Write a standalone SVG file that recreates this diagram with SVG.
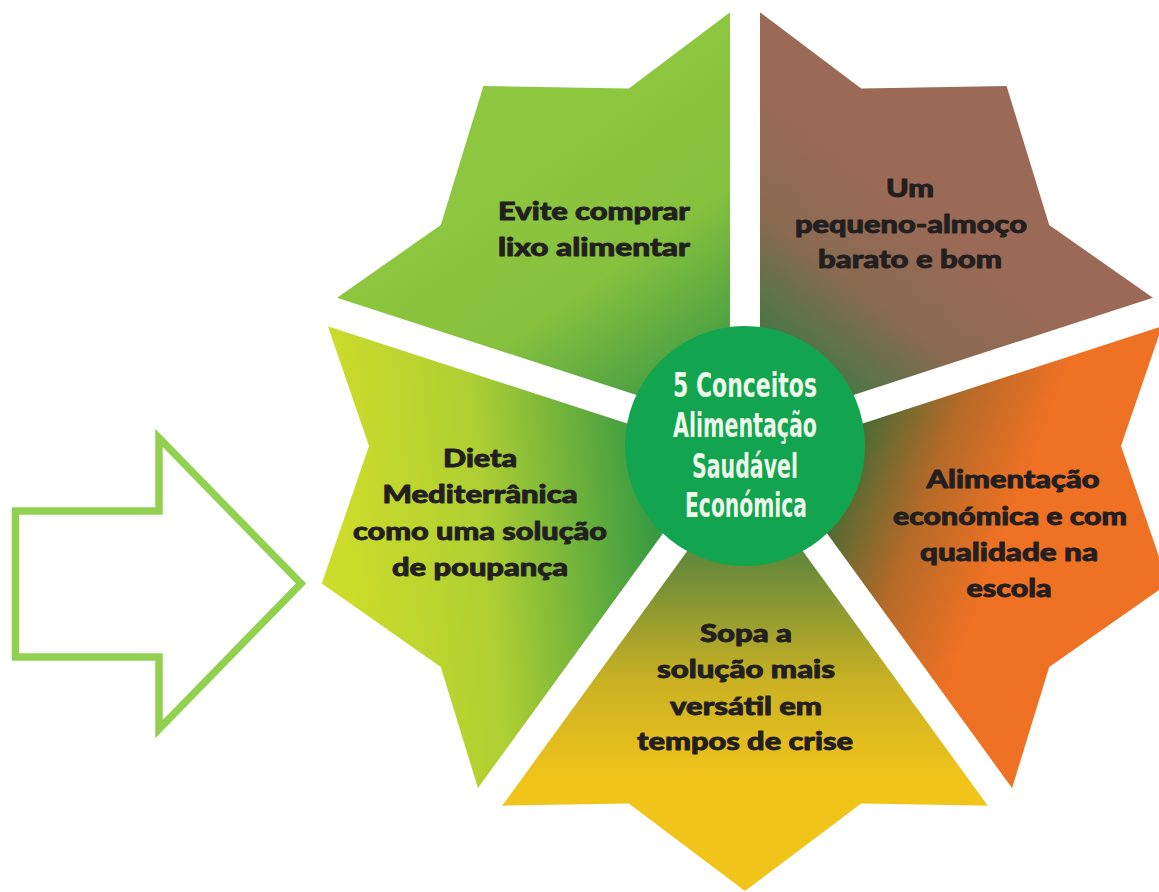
<svg xmlns="http://www.w3.org/2000/svg" width="1159" height="892" viewBox="0 0 1159 892">
  <defs>
    <linearGradient id="gA" gradientUnits="userSpaceOnUse" x1="540" y1="150" x2="730" y2="420">
      <stop offset="0" stop-color="#8dc63f"/>
      <stop offset="0.42" stop-color="#86c13e"/>
      <stop offset="1" stop-color="#2a8e46"/>
    </linearGradient>
    <linearGradient id="gB" gradientUnits="userSpaceOnUse" x1="785" y1="395" x2="930" y2="210">
      <stop offset="0" stop-color="#2e7c40"/>
      <stop offset="0.55" stop-color="#8a6a50"/>
      <stop offset="1" stop-color="#9b6a56"/>
    </linearGradient>
    <linearGradient id="gC" gradientUnits="userSpaceOnUse" x1="860" y1="430" x2="1020" y2="490">
      <stop offset="0" stop-color="#4a6b35"/>
      <stop offset="0.5" stop-color="#b56a28"/>
      <stop offset="1" stop-color="#ee7124"/>
    </linearGradient>
    <linearGradient id="gD" gradientUnits="userSpaceOnUse" x1="745" y1="560" x2="745" y2="780">
      <stop offset="0" stop-color="#66893a"/>
      <stop offset="0.55" stop-color="#c9b124"/>
      <stop offset="1" stop-color="#f1c41a"/>
    </linearGradient>
    <linearGradient id="gE" gradientUnits="userSpaceOnUse" x1="340" y1="500" x2="650" y2="470">
      <stop offset="0" stop-color="#cbdc2a"/>
      <stop offset="0.45" stop-color="#b0cf33"/>
      <stop offset="1" stop-color="#389a42"/>
    </linearGradient>
    <style>
      .label { font-family: Lato, "Open Sans", "Liberation Sans", sans-serif; font-weight: 900; font-size: 25.5px; fill: #231f20; stroke: #231f20; stroke-width: 0.9; stroke-linejoin: round; text-anchor: middle; }
      .hub { font-family: "Liberation Sans Narrow", "DejaVu Sans Condensed", "Liberation Sans", sans-serif; font-weight: bold; font-size: 33px; fill: #eef7ea; text-anchor: middle; }
      .sep { stroke: #ffffff; stroke-width: 30; stroke-linecap: butt; }
    </style>
  </defs>

  <rect width="1159" height="892" fill="#ffffff"/>

  <!-- outline arrow pointing at the star -->
  <g id="arrow">
    <polygon points="15.5,511 159,511 159,438 301,583.5 159,729 159,657 15.5,657" fill="none" stroke="#92d050" stroke-width="7.5" stroke-linejoin="miter"/>
  </g>

  <!-- star segments, centre (745,446) -->
  <g id="seg-lixo">
    <polygon points="745,446 321.8,308.5 440.8,225 483.4,86 628.8,88.4 745,1" fill="url(#gA)"/>
    <text class="label" x="594" y="220" textLength="192" lengthAdjust="spacingAndGlyphs">Evite comprar</text>
    <text class="label" x="594" y="256" textLength="192" lengthAdjust="spacingAndGlyphs">lixo alimentar</text>
  </g>

  <g id="seg-pequeno-almoco">
    <polygon points="745,446 745,1 861.2,88.4 1006.6,86 1049.2,225 1168.2,308.5" fill="url(#gB)"/>
    <text class="label" x="910" y="197" textLength="48" lengthAdjust="spacingAndGlyphs">Um</text>
    <text class="label" x="911" y="233" textLength="232" lengthAdjust="spacingAndGlyphs">pequeno-almoço</text>
    <text class="label" x="910" y="268" textLength="184" lengthAdjust="spacingAndGlyphs">barato e bom</text>
  </g>

  <g id="seg-escola">
    <polygon points="745,446 1168.2,308.5 1121,446 1168.2,583.5 1049.2,667 1006.6,806" fill="url(#gC)"/>
    <text class="label" x="1013" y="488" textLength="173" lengthAdjust="spacingAndGlyphs">Alimentação</text>
    <text class="label" x="1010" y="525" textLength="234" lengthAdjust="spacingAndGlyphs">económica e com</text>
    <text class="label" x="1009" y="561" textLength="178" lengthAdjust="spacingAndGlyphs">qualidade na</text>
    <text class="label" x="1009" y="597" textLength="85" lengthAdjust="spacingAndGlyphs">escola</text>
  </g>

  <g id="seg-sopa">
    <polygon points="745,446 1006.6,806 861.2,803.6 745,891 628.8,803.6 483.4,806" fill="url(#gD)"/>
    <text class="label" x="746" y="642" textLength="92" lengthAdjust="spacingAndGlyphs">Sopa a</text>
    <text class="label" x="746" y="678" textLength="178" lengthAdjust="spacingAndGlyphs">solução mais</text>
    <text class="label" x="746" y="715" textLength="152" lengthAdjust="spacingAndGlyphs">versátil em</text>
    <text class="label" x="745" y="750" textLength="216" lengthAdjust="spacingAndGlyphs">tempos de crise</text>
  </g>

  <g id="seg-dieta">
    <polygon points="745,446 483.4,806 440.8,667 321.8,583.5 369,446 321.8,308.5" fill="url(#gE)"/>
    <text class="label" x="480" y="467" textLength="74" lengthAdjust="spacingAndGlyphs">Dieta</text>
    <text class="label" x="480" y="503" textLength="195" lengthAdjust="spacingAndGlyphs">Mediterrânica</text>
    <text class="label" x="480" y="540" textLength="254" lengthAdjust="spacingAndGlyphs">como uma solução</text>
    <text class="label" x="480" y="576" textLength="176" lengthAdjust="spacingAndGlyphs">de poupança</text>
  </g>

  <!-- white gaps between the segments -->
  <g id="separators">
    <line class="sep" x1="745" y1="446" x2="745" y2="-34"/>
    <line class="sep" x1="745" y1="446" x2="1201.5" y2="297.7"/>
    <line class="sep" x1="745" y1="446" x2="1027.1" y2="834.3"/>
    <line class="sep" x1="745" y1="446" x2="462.9" y2="834.3"/>
    <line class="sep" x1="745" y1="446" x2="288.5" y2="297.7"/>
  </g>

  <g id="hub">
    <circle cx="745" cy="446" r="120" fill="#12a44f"/>
    <text class="hub" x="745" y="397" textLength="144" lengthAdjust="spacingAndGlyphs">5 Conceitos</text>
    <text class="hub" x="745" y="437" textLength="144" lengthAdjust="spacingAndGlyphs">Alimentação</text>
    <text class="hub" x="745" y="478" textLength="106" lengthAdjust="spacingAndGlyphs">Saudável</text>
    <text class="hub" x="746" y="517" textLength="122" lengthAdjust="spacingAndGlyphs">Económica</text>
  </g>
</svg>
